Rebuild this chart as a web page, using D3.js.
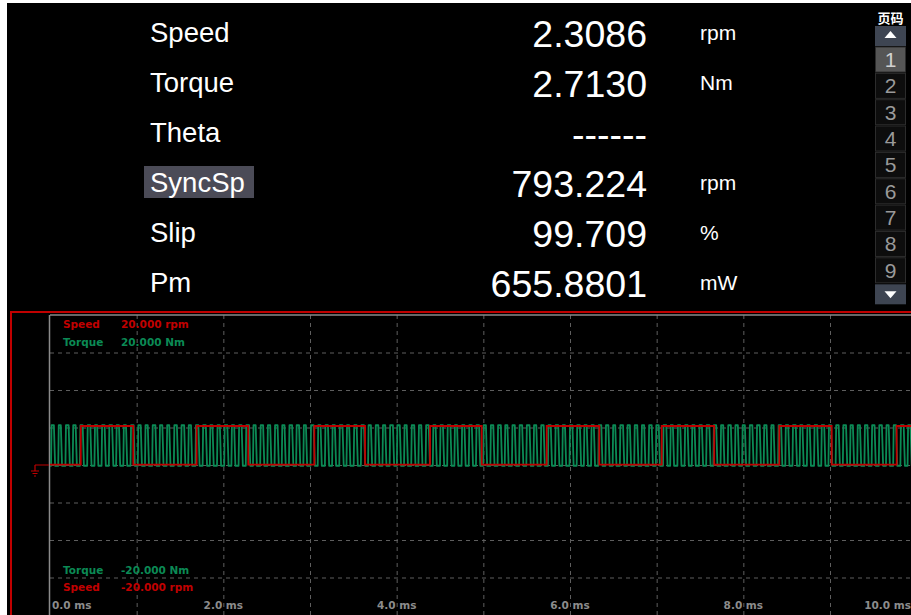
<!DOCTYPE html>
<html>
<head>
<meta charset="utf-8">
<script src="https://cdn.jsdelivr.net/npm/d3@7"></script>
<style>
  body { margin:0; background:#fff; }
  svg { display:block; }
</style>
</head>
<body>
<svg id="scope"></svg>
<script>

//readout rows
var readoutLabels = ["Speed","Torque","Theta","SyncSp","Slip","Pm"];
var readoutValues = ["2.3086","2.7130","------","793.224","99.709","655.8801"];
var readoutUnits  = ["rpm","Nm","","rpm","%","mW"];
var selectedLabel = "SyncSp";

//page buttons on the right
var pageTitle = "页码";
var pageNumbers = [1,2,3,4,5,6,7,8,9];
var currentPage = 1;

//x axis (ms) and y axis (divisions of +-20)
var timeDomain = [0,10];
var valueDomain = [-20,20];
var timeTicks = [0,2,4,6,8,10];
var timeTickLabels = ["0.0 ms","2.0 ms","4.0 ms","6.0 ms","8.0 ms","10.0 ms"];
var timeGrid = [1,2,3,4,5,6,7,8,9];
var valueGrid = [-15,-10,-5,0,5,10,15];

//channel scale labels
var topNames = ["Speed","Torque"];
var topScales = ["20.000 rpm","20.000 Nm"];
var bottomNames = ["Torque","Speed"];
var bottomScales = ["-20.000 Nm","-20.000 rpm"];

//speed trace: low/high level and edge times (ms)
var speedLevels = [0.05, 5.2];
var speedEdges = [0.355,0.961,1.692,2.288,3.050,3.635,4.385,4.981,5.731,6.338,7.058,7.664,8.415,9.019,9.769];

//torque trace: low/high level, first low stretch and pulse widths (us)
var torqueLevels = [-0.1, 5.3];
var torqueStartUs = 12;
var torqueHighUs = [40,37,44,41,39,43,38,42,45,40, 38,43,41,39,44,40,37,42,43,39,
  41,44,38,40,43,39,42,45,38,41, 40,42,39,44,41,37,43,40,42,39,
  44,38,41,43,40,42,39,45,41,38, 42,40,43,39,41,44,38,40,42,43,
  39,41,45,38,40,42,44,39,41,40, 43,38,41,44,40,39,42,41,37,44,
  40,42,39,43,41,45,38,40,42,39, 41,44,40,38,43,41,39,42,44,40,
  38,42,41,45,39,40,43,41,38,42, 44,40,39,42,41,43,38,40,45,41, 40];
var torqueLowUs = [43,46,40,42,45,41,44,42,39,43, 45,41,42,44,40,43,46,41,40,44,
  42,39,45,43,40,44,41,38,45,42, 43,41,44,39,42,46,40,43,41,44,
  39,45,42,40,43,41,44,38,42,45, 41,43,40,44,42,39,45,43,41,40,
  44,42,38,45,43,41,39,44,42,43, 40,45,42,39,43,44,41,42,46,39,
  43,41,44,40,42,38,45,43,41,44, 42,39,43,45,40,42,44,41,39,43,
  45,41,42,38,44,43,40,42,45,41, 39,43,44,41,42,40,45,43,38,42, 43];

var speedColor = "#c00000",
    torqueColor = "#0b8a55",
    gridColor = "#5e5e5e",
    axisColor = "#8a8a8a";

var W = 911, H = 615;
var svg = d3.select("#scope").attr("width", W).attr("height", H);

//black screen (thin white margin on top and left)
svg.append("rect").attr("x",7).attr("y",3).attr("width",W-7).attr("height",H-3).attr("fill","#000");

//////Readout panel
var rowY = d3.scalePoint().domain(readoutLabels).range([42,292]);
var panel = svg.append("g").attr("class","readout");

panel.append("rect")
  .attr("x",144).attr("y",rowY(selectedLabel)-26)
  .attr("width",110).attr("height",32)
  .attr("fill","#4b4b57");

panel.selectAll("text.lbl")
  .data(readoutLabels)
  .enter().append("text")
    .attr("class","lbl")
    .attr("x",150)
    .attr("y",function(d){ return rowY(d); })
    .attr("fill","#fff")
    .style("font","27.5px 'Liberation Sans', Arial, sans-serif")
    .text(function(d){ return d; });

panel.selectAll("text.val")
  .data(readoutValues)
  .enter().append("text")
    .attr("class","val")
    .attr("x",647)
    .attr("y",function(d,i){ return rowY(readoutLabels[i]) + 5; })
    .attr("text-anchor","end")
    .attr("fill","#fff")
    .style("font","37.5px 'Liberation Sans', Arial, sans-serif")
    .text(function(d){ return d; });

panel.selectAll("text.unit")
  .data(readoutUnits)
  .enter().append("text")
    .attr("class","unit")
    .attr("x",700)
    .attr("y",function(d,i){ return rowY(readoutLabels[i]) - 2; })
    .attr("fill","#fff")
    .style("font","21px 'Liberation Sans', Arial, sans-serif")
    .text(function(d){ return d; });

//////Page buttons
var side = svg.append("g").attr("class","pages");
var bx = 875, bw = 31, cx = bx + bw/2;

side.append("text")
  .attr("x",cx).attr("y",23)
  .attr("text-anchor","middle")
  .attr("fill","#fff")
  .style("font","bold 13px 'Noto Sans CJK SC', sans-serif")
  .text(pageTitle);

var pageY = d3.scaleBand().domain(pageNumbers).range([47, 47 + 9*26.2]).paddingInner(0.05);

side.append("rect").attr("x",bx).attr("y",26).attr("width",bw).attr("height",20).attr("fill","#3e4552");
side.append("path").attr("d","M"+(cx-6)+",38L"+(cx+6)+",38L"+cx+",31Z").attr("fill","#fff");

side.selectAll("rect.pg")
  .data(pageNumbers)
  .enter().append("rect")
    .attr("class","pg")
    .attr("x",bx+0.5)
    .attr("y",function(d){ return pageY(d); })
    .attr("width",bw-1)
    .attr("height",pageY.bandwidth())
    .attr("fill",function(d){ return d == currentPage ? "#555" : "#0d0d0d"; })
    .attr("stroke","#2c2c2c");

side.selectAll("text.pg")
  .data(pageNumbers)
  .enter().append("text")
    .attr("class","pg")
    .attr("x",cx)
    .attr("y",function(d){ return pageY(d) + pageY.bandwidth()/2 + 7.5; })
    .attr("text-anchor","middle")
    .attr("fill",function(d){ return d == currentPage ? "#d0d0d0" : "#9a9a9a"; })
    .style("font","21px 'Liberation Sans', Arial, sans-serif")
    .text(function(d){ return d; });

var downY = pageY(9) + pageY.bandwidth() + 1.5;
side.append("rect").attr("x",bx).attr("y",downY).attr("width",bw).attr("height",20).attr("fill","#3e4552");
side.append("path").attr("d","M"+(cx-6)+","+(downY+7)+"L"+(cx+6)+","+(downY+7)+"L"+cx+","+(downY+14)+"Z").attr("fill","#fff");

//////Scope
var x = d3.scaleLinear().domain(timeDomain).range([50, 916.67]);
var y = d3.scaleLinear().domain(valueDomain).range([615, 315]);

//red frame of the active window
svg.append("rect")
  .attr("x",11).attr("y",312).attr("width",930).attr("height",330)
  .attr("fill","none").attr("stroke",speedColor).attr("stroke-width",2);

//horizontal gridlines
svg.append("g")
  .attr("class","grid")
  .attr("transform","translate("+x(0)+",0)")
  .call(d3.axisLeft(y)
    .tickValues(valueGrid)
    .tickSize(-(x(10)-x(0)))
    .tickFormat(""));

//vertical gridlines
svg.append("g")
  .attr("class","grid")
  .attr("transform","translate(0,"+y(-20)+")")
  .call(d3.axisBottom(x)
    .tickValues(timeGrid)
    .tickSize(-(y(-20)-y(20)))
    .tickFormat(""));

svg.selectAll(".grid .domain").remove();
svg.selectAll(".grid line")
  .attr("stroke",gridColor)
  .attr("stroke-dasharray","4,4");

//solid left and top axis lines
svg.append("line").attr("x1",x(0)-0.5).attr("x2",x(0)-0.5).attr("y1",y(20)).attr("y2",H)
  .attr("stroke",axisColor).attr("stroke-width",1.5);
svg.append("line").attr("x1",x(0)).attr("x2",W).attr("y1",y(20)).attr("y2",y(20))
  .attr("stroke",axisColor).attr("stroke-width",1.5);

//ground marker
var g0 = y(0);
svg.append("path")
  .attr("d","M35,"+g0+"H49M35,"+g0+"V"+(g0+6)+"M31,"+(g0+6)+"H39M32.5,"+(g0+8.5)+"H37.5M34,"+(g0+11)+"H36")
  .attr("stroke",speedColor).attr("stroke-width",1.2).attr("fill","none");

//clip for the traces
svg.append("clipPath").attr("id","plotclip")
  .append("rect").attr("x",x(0)).attr("y",y(20)).attr("width",W-x(0)).attr("height",H-y(20));

var line = d3.line()
  .x(function(d){ return x(d[0]); })
  .y(function(d){ return y(d[1]); });

//torque points: rise is fast, fall is a bit slower
var rise = 0.006, fall = 0.014;
var t = torqueStartUs / 1000;
var torquePts = [[0, torqueLevels[0]]];
torqueHighUs.forEach(function(h,i){
  torquePts.push([t, torqueLevels[0]]);
  torquePts.push([t + rise, torqueLevels[1]]);
  t += h / 1000;
  torquePts.push([t - fall/2, torqueLevels[1]]);
  torquePts.push([t + fall/2, torqueLevels[0]]);
  t += torqueLowUs[i] / 1000;
});
torquePts.push([Math.max(t,10), torqueLevels[0]]);

//speed points
var state = 0;
var speedPts = [[0, speedLevels[0]]];
speedEdges.forEach(function(e){
  speedPts.push([e, speedLevels[state]]);
  state = 1 - state;
  speedPts.push([e, speedLevels[state]]);
});
speedPts.push([10, speedLevels[state]]);

var traces = svg.append("g").attr("clip-path","url(#plotclip)");

traces.append("path")
  .datum(torquePts)
  .attr("d",line)
  .attr("fill","none")
  .attr("stroke",torqueColor)
  .attr("stroke-width",1.8)
  .attr("stroke-linejoin","round");

traces.append("path")
  .datum(speedPts)
  .attr("d",line)
  .attr("fill","none")
  .attr("stroke",speedColor)
  .attr("stroke-width",1.8);

//channel scale labels
var smallFont = "bold 10.5px 'DejaVu Sans', Verdana, sans-serif";
var topColors = [speedColor, torqueColor];
var bottomColors = [torqueColor, speedColor];

function addScaleLabels(names, scales, colors, y0){
  names.forEach(function(n,i){
    svg.append("text").attr("x",63).attr("y",y0 + i*17.5)
      .attr("fill",colors[i]).style("font",smallFont).text(n);
    svg.append("text").attr("x",121).attr("y",y0 + i*17.5)
      .attr("fill",colors[i]).style("font",smallFont).text(scales[i]);
  });
}
addScaleLabels(topNames, topScales, topColors, 328);
addScaleLabels(bottomNames, bottomScales, bottomColors, 573.5);

//time labels (centered on tick, kept inside the screen)
svg.selectAll("text.tick")
  .data(timeTicks)
  .enter().append("text")
    .attr("class","tick")
    .attr("x",function(d,i){
      if (i == 0) return 52;
      if (i == timeTicks.length-1) return W;
      return x(d);
    })
    .attr("y",609)
    .attr("text-anchor",function(d,i){
      if (i == 0) return "start";
      if (i == timeTicks.length-1) return "end";
      return "middle";
    })
    .attr("fill","#8c8c8c")
    .style("font",smallFont)
    .text(function(d,i){ return timeTickLabels[i]; });

</script>
</body>
</html>
